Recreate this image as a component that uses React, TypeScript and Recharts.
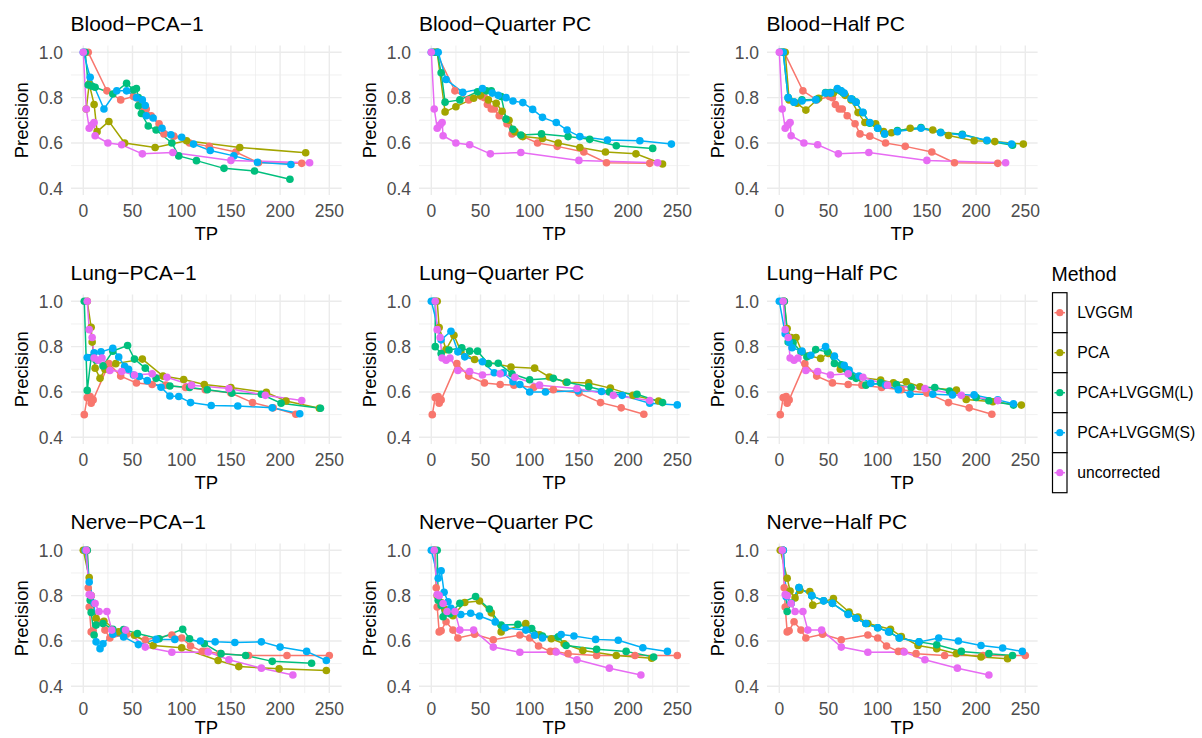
import { LineChart, Line, XAxis, YAxis, ReferenceLine } from "recharts";

type Pt = [number, number];

const methods = ["LVGGM", "PCA", "PCA+LVGGM(L)", "PCA+LVGGM(S)", "uncorrected"];
const methodColors = ["#F8766D", "#A3A500", "#00BF7D", "#00B0F6", "#E76BF3"];

const tpTicks = [0, 50, 100, 150, 200, 250];
const tpMinor = [25, 75, 125, 175, 225];
const precisionTicks = [0.4, 0.6, 0.8, 1.0];
const precisionMinor = [0.5, 0.7, 0.9];

// LVGGM and uncorrected are the same across the three PC settings of a tissue
const bloodLvggm: Pt[] = [[5, 1.0], [24, 0.83], [38, 0.79], [51, 0.805], [54, 0.8], [57, 0.77], [61, 0.75], [64, 0.75], [69, 0.72], [77, 0.685], [82, 0.64], [92, 0.63], [108, 0.6], [128, 0.585], [155, 0.56], [178, 0.513], [222, 0.51]];
const bloodUncorrected: Pt[] = [[0, 1.0], [3, 0.75], [6, 0.665], [9, 0.68], [11, 0.69], [12, 0.632], [25, 0.6], [39, 0.592], [60, 0.552], [91, 0.558], [150, 0.523], [230, 0.513]];

const bloodPca1Pca: Pt[] = [[3, 0.75], [6, 0.86], [11, 0.77], [14, 0.65], [26, 0.695], [42, 0.6], [73, 0.58], [105, 0.61], [159, 0.58], [226, 0.557]];
const bloodPca1L: Pt[] = [[2, 1.0], [5, 0.856], [9, 0.85], [12, 0.846], [30, 0.816], [44, 0.863], [51, 0.834], [54, 0.84], [56, 0.8], [56, 0.764], [59, 0.73], [66, 0.675], [74, 0.657], [90, 0.6], [97, 0.543], [115, 0.522], [143, 0.488], [174, 0.476], [210, 0.44]];
const bloodPca1S: Pt[] = [[0, 1.0], [7, 0.89], [21, 0.75], [34, 0.83], [44, 0.83], [54, 0.8], [60, 0.79], [63, 0.765], [64, 0.72], [71, 0.71], [80, 0.665], [89, 0.636], [100, 0.625], [112, 0.595], [129, 0.567], [153, 0.543], [177, 0.515], [211, 0.505]];

const bloodQuarterPca: Pt[] = [[3, 1.0], [6, 1.0], [14, 0.737], [25, 0.76], [43, 0.797], [50, 0.81], [58, 0.79], [66, 0.775], [72, 0.74], [79, 0.7], [85, 0.65], [93, 0.628], [113, 0.62], [129, 0.6], [151, 0.58], [177, 0.56], [208, 0.552], [235, 0.507]];
const bloodQuarterL: Pt[] = [[2, 1.0], [6, 1.0], [10, 0.91], [14, 0.78], [29, 0.79], [47, 0.826], [56, 0.83], [61, 0.83], [71, 0.805], [76, 0.705], [83, 0.66], [91, 0.635], [112, 0.64], [139, 0.628], [161, 0.616], [188, 0.588], [225, 0.576]];
const bloodQuarterS: Pt[] = [[0, 1.0], [7, 1.0], [15, 0.88], [32, 0.823], [52, 0.84], [62, 0.82], [68, 0.81], [76, 0.8], [83, 0.785], [93, 0.778], [103, 0.748], [113, 0.713], [127, 0.69], [138, 0.657], [151, 0.628], [179, 0.613], [212, 0.61], [244, 0.595]];

const bloodHalfPca: Pt[] = [[3, 1.0], [6, 1.0], [10, 0.79], [18, 0.775], [27, 0.745], [40, 0.797], [48, 0.82], [55, 0.82], [62, 0.83], [67, 0.81], [73, 0.79], [80, 0.734], [87, 0.69], [98, 0.684], [106, 0.65], [114, 0.645], [133, 0.665], [156, 0.657], [172, 0.633], [198, 0.61], [219, 0.606], [248, 0.595]];
const bloodHalfL: Pt[] = [[1, 1.0], [4, 1.0], [9, 0.8], [15, 0.78], [23, 0.79], [38, 0.793], [47, 0.822], [52, 0.822], [59, 0.837], [62, 0.83], [65, 0.82], [74, 0.793], [78, 0.78], [85, 0.734], [92, 0.687], [100, 0.665], [107, 0.64], [120, 0.655], [144, 0.668], [164, 0.647], [186, 0.638], [211, 0.61], [237, 0.59]];
const bloodHalfS: Pt[] = [[1, 1.0], [4, 1.0], [9, 0.8], [15, 0.78], [23, 0.785], [37, 0.79], [47, 0.82], [52, 0.82], [59, 0.84], [63, 0.83], [66, 0.82], [73, 0.795], [78, 0.78], [85, 0.735], [92, 0.69], [100, 0.665], [107, 0.64], [120, 0.65], [144, 0.665], [164, 0.645], [186, 0.635], [211, 0.612], [236, 0.595]];

const lungLvggm: Pt[] = [[1, 0.5], [4, 0.575], [7, 0.58], [8, 0.55], [10, 0.565], [26, 0.725], [38, 0.67], [54, 0.64], [70, 0.633], [84, 0.63], [104, 0.62], [124, 0.61], [150, 0.595], [172, 0.553], [193, 0.53], [216, 0.502]];
const lungUncorrected: Pt[] = [[4, 1.0], [6, 0.875], [9, 0.84], [11, 0.75], [15, 0.74], [19, 0.75], [27, 0.695], [39, 0.69], [52, 0.675], [70, 0.68], [85, 0.665], [110, 0.63], [148, 0.615], [185, 0.585], [222, 0.562]];

const lungPca1Pca: Pt[] = [[4, 1.0], [8, 0.885], [9, 0.82], [12, 0.705], [17, 0.66], [22, 0.7], [33, 0.725], [60, 0.745], [81, 0.67], [102, 0.655], [123, 0.633], [150, 0.62], [186, 0.598], [206, 0.56], [240, 0.528]];
const lungPca1L: Pt[] = [[1, 1.0], [4, 0.607], [8, 0.752], [13, 0.74], [20, 0.715], [30, 0.78], [45, 0.805], [52, 0.745], [63, 0.705], [74, 0.66], [88, 0.626], [108, 0.62], [126, 0.61], [151, 0.595], [181, 0.59], [201, 0.55], [241, 0.528]];
const lungPca1S: Pt[] = [[4, 0.752], [11, 0.773], [18, 0.777], [30, 0.793], [36, 0.754], [42, 0.713], [46, 0.7], [51, 0.675], [57, 0.668], [65, 0.65], [79, 0.621], [88, 0.582], [97, 0.58], [109, 0.553], [130, 0.54], [157, 0.538], [192, 0.53], [220, 0.504]];

const lungQuarterPca: Pt[] = [[6, 1.0], [8, 0.884], [15, 0.787], [23, 0.85], [30, 0.78], [44, 0.743], [81, 0.71], [105, 0.705], [120, 0.666], [137, 0.643], [160, 0.64], [182, 0.617], [205, 0.585], [231, 0.56]];
const lungQuarterL: Pt[] = [[2, 1.0], [4, 1.0], [4, 0.8], [10, 0.77], [18, 0.785], [31, 0.795], [39, 0.78], [47, 0.78], [58, 0.725], [68, 0.727], [82, 0.68], [100, 0.654], [124, 0.66], [138, 0.643], [160, 0.623], [181, 0.6], [209, 0.59], [235, 0.553]];
const lungQuarterS: Pt[] = [[0, 1.0], [10, 0.83], [20, 0.868], [27, 0.777], [34, 0.755], [52, 0.733], [64, 0.685], [73, 0.685], [83, 0.645], [90, 0.633], [100, 0.6], [116, 0.6], [149, 0.605], [173, 0.602], [194, 0.585], [222, 0.55], [250, 0.543]];

const lungHalfPca: Pt[] = [[5, 1.0], [8, 0.88], [12, 0.84], [17, 0.84], [23, 0.777], [30, 0.76], [42, 0.748], [50, 0.77], [62, 0.7], [80, 0.665], [103, 0.653], [116, 0.64], [129, 0.645], [143, 0.623], [180, 0.608], [190, 0.567], [217, 0.557], [246, 0.542]];
const lungHalfL: Pt[] = [[3, 1.0], [5, 1.0], [9, 0.82], [14, 0.817], [22, 0.777], [28, 0.755], [37, 0.787], [49, 0.777], [56, 0.726], [63, 0.72], [68, 0.7], [73, 0.67], [78, 0.66], [88, 0.63], [103, 0.64], [119, 0.633], [134, 0.62], [158, 0.62], [173, 0.604], [200, 0.576], [213, 0.561], [238, 0.542]];
const lungHalfS: Pt[] = [[0, 1.0], [6, 0.857], [10, 0.82], [13, 0.795], [23, 0.78], [32, 0.762], [47, 0.8], [56, 0.758], [66, 0.718], [71, 0.697], [81, 0.67], [93, 0.638], [108, 0.63], [121, 0.61], [133, 0.59], [156, 0.59], [176, 0.587], [198, 0.587], [222, 0.565], [238, 0.548]];

const nerveLvggm: Pt[] = [[4, 1.0], [5, 0.835], [6, 0.75], [8, 0.64], [10, 0.645], [15, 0.685], [22, 0.648], [27, 0.613], [44, 0.63], [63, 0.605], [90, 0.626], [100, 0.613], [109, 0.578], [121, 0.554], [126, 0.554], [139, 0.544], [168, 0.536], [207, 0.536], [250, 0.536]];
const nerveUncorrected: Pt[] = [[3, 1.0], [6, 0.805], [8, 0.8], [12, 0.765], [16, 0.73], [24, 0.73], [29, 0.648], [43, 0.648], [63, 0.573], [90, 0.55], [127, 0.551], [148, 0.517], [181, 0.48], [213, 0.45]];

const nervePca1Pca: Pt[] = [[0, 1.0], [6, 0.88], [8, 0.8], [13, 0.7], [21, 0.687], [36, 0.64], [52, 0.625], [71, 0.58], [100, 0.57], [137, 0.514], [158, 0.487], [199, 0.477], [247, 0.47]];
const nervePca1L: Pt[] = [[4, 1.0], [7, 0.78], [8, 0.726], [11, 0.626], [13, 0.67], [20, 0.677], [30, 0.652], [41, 0.65], [55, 0.633], [77, 0.61], [101, 0.652], [108, 0.61], [123, 0.588], [140, 0.544], [165, 0.536], [192, 0.51], [232, 0.502]];
const nervePca1S: Pt[] = [[2, 1.0], [6, 0.86], [11, 0.766], [13, 0.596], [17, 0.566], [20, 0.588], [30, 0.63], [41, 0.618], [56, 0.584], [74, 0.607], [93, 0.607], [119, 0.6], [134, 0.596], [154, 0.593], [181, 0.596], [200, 0.573], [227, 0.554], [247, 0.514]];

const nerveQuarterPca: Pt[] = [[3, 1.0], [6, 0.8], [10, 0.77], [14, 0.74], [22, 0.711], [34, 0.77], [49, 0.776], [61, 0.724], [71, 0.64], [96, 0.677], [110, 0.627], [122, 0.61], [135, 0.588], [154, 0.558], [188, 0.536], [224, 0.524]];
const nerveQuarterL: Pt[] = [[2, 1.0], [6, 1.0], [7, 0.78], [10, 0.757], [12, 0.707], [19, 0.72], [29, 0.766], [45, 0.796], [59, 0.741], [71, 0.67], [88, 0.673], [102, 0.655], [113, 0.622], [129, 0.618], [137, 0.58], [168, 0.563], [198, 0.554], [226, 0.529]];
const nerveQuarterS: Pt[] = [[0, 1.0], [7, 0.877], [10, 0.91], [13, 0.815], [17, 0.773], [20, 0.744], [30, 0.717], [40, 0.722], [49, 0.71], [65, 0.684], [75, 0.658], [96, 0.648], [105, 0.625], [113, 0.613], [132, 0.628], [145, 0.622], [167, 0.607], [190, 0.603], [215, 0.57], [240, 0.554]];

const nerveHalfPca: Pt[] = [[1, 1.0], [8, 0.877], [11, 0.82], [16, 0.79], [21, 0.824], [31, 0.818], [34, 0.758], [55, 0.787], [71, 0.728], [80, 0.706], [90, 0.677], [113, 0.652], [124, 0.62], [141, 0.58], [160, 0.566], [180, 0.544], [205, 0.529], [232, 0.522]];
const nerveHalfL: Pt[] = [[4, 1.0], [8, 0.73], [12, 0.766], [20, 0.836], [33, 0.8], [45, 0.777], [54, 0.766], [70, 0.72], [78, 0.7], [88, 0.677], [100, 0.658], [112, 0.64], [122, 0.613], [142, 0.596], [160, 0.583], [185, 0.554], [213, 0.544], [237, 0.536]];
const nerveHalfS: Pt[] = [[4, 1.0], [7, 0.795], [12, 0.766], [20, 0.836], [33, 0.8], [45, 0.777], [54, 0.766], [70, 0.717], [78, 0.7], [88, 0.677], [100, 0.658], [111, 0.64], [122, 0.613], [142, 0.596], [162, 0.613], [182, 0.6], [205, 0.58], [227, 0.569], [247, 0.554]];

// one entry per facet, series in the order of `methods`
const panels = [
  { title: "Blood−PCA−1", series: [bloodLvggm, bloodPca1Pca, bloodPca1L, bloodPca1S, bloodUncorrected] },
  { title: "Blood−Quarter PC", series: [bloodLvggm, bloodQuarterPca, bloodQuarterL, bloodQuarterS, bloodUncorrected] },
  { title: "Blood−Half PC", series: [bloodLvggm, bloodHalfPca, bloodHalfL, bloodHalfS, bloodUncorrected] },
  { title: "Lung−PCA−1", series: [lungLvggm, lungPca1Pca, lungPca1L, lungPca1S, lungUncorrected] },
  { title: "Lung−Quarter PC", series: [lungLvggm, lungQuarterPca, lungQuarterL, lungQuarterS, lungUncorrected] },
  { title: "Lung−Half PC", series: [lungLvggm, lungHalfPca, lungHalfL, lungHalfS, lungUncorrected] },
  { title: "Nerve−PCA−1", series: [nerveLvggm, nervePca1Pca, nervePca1L, nervePca1S, nerveUncorrected] },
  { title: "Nerve−Quarter PC", series: [nerveLvggm, nerveQuarterPca, nerveQuarterL, nerveQuarterS, nerveUncorrected] },
  { title: "Nerve−Half PC", series: [nerveLvggm, nerveHalfPca, nerveHalfL, nerveHalfS, nerveUncorrected] },
];

const FONT = "'Liberation Sans', Arial, Helvetica, sans-serif";
const GRID = "#EBEBEB";
const colLeft = [71, 419.4, 767];
const rowTop = [45.5, 294.2, 543.9];
const PLOT_W = 270.6;
const PLOT_H = 149.6;
const Y_AXIS_W = 62;
const TOP_PAD = 45.5;
const X_AXIS_H = 53;

const toRows = (pts: Pt[]) => pts.map(([tp, precision]) => ({ tp, precision }));

function Panel({ series, left, top, tpOffset }: { series: Pt[][]; left: number; top: number; tpOffset: number }) {
  return (
    <div style={{ position: "absolute", left: left - Y_AXIS_W, top: top - TOP_PAD }}>
      <LineChart
        width={Y_AXIS_W + PLOT_W + 4}
        height={TOP_PAD + PLOT_H + X_AXIS_H}
        margin={{ top: TOP_PAD, right: 4, bottom: 0, left: 0 }}
      >
        {tpMinor.map((v) => (
          <ReferenceLine key={"xm" + v} x={v} stroke={GRID} strokeWidth={0.7} />
        ))}
        {precisionMinor.map((v) => (
          <ReferenceLine key={"ym" + v} y={v} stroke={GRID} strokeWidth={0.7} />
        ))}
        {tpTicks.map((v) => (
          <ReferenceLine key={"x" + v} x={v} stroke={GRID} strokeWidth={1.4} />
        ))}
        {precisionTicks.map((v) => (
          <ReferenceLine key={"y" + v} y={v} stroke={GRID} strokeWidth={1.4} />
        ))}
        <XAxis
          type="number"
          dataKey="tp"
          domain={[-12.5, 262.5]}
          ticks={tpTicks}
          interval={0}
          allowDataOverflow
          axisLine={false}
          tickLine={false}
          tickSize={0}
          tickMargin={9}
          height={X_AXIS_H}
          tick={{ fill: "#4D4D4D", fontSize: 17.5, fontFamily: FONT }}
          label={{ value: "TP", position: "insideBottom", offset: tpOffset, fill: "#000", fontSize: 18.5, fontFamily: FONT }}
        />
        <YAxis
          type="number"
          domain={[0.37, 1.03]}
          ticks={precisionTicks}
          interval={0}
          allowDataOverflow
          axisLine={false}
          tickLine={false}
          tickSize={0}
          tickMargin={8}
          width={Y_AXIS_W}
          tickFormatter={(v) => Number(v).toFixed(1)}
          tick={{ fill: "#4D4D4D", fontSize: 17.5, fontFamily: FONT }}
          label={{
            value: "Precision",
            angle: -90,
            position: "insideLeft",
            offset: 12.4,
            fill: "#000",
            fontSize: 18.5,
            fontFamily: FONT,
            style: { textAnchor: "middle" },
          }}
        />
        {series.map((s, i) => (
          <Line
            key={"line" + i}
            data={toRows(s)}
            dataKey="precision"
            name={methods[i]}
            type="linear"
            stroke={methodColors[i]}
            strokeWidth={1.5}
            dot={false}
            activeDot={false}
            isAnimationActive={false}
          />
        ))}
        {series.map((s, i) => (
          <Line
            key={"pts" + i}
            data={toRows(s)}
            dataKey="precision"
            name={methods[i]}
            type="linear"
            stroke="none"
            dot={{ r: 3.8, fill: methodColors[i], stroke: "none" }}
            activeDot={false}
            isAnimationActive={false}
          />
        ))}
      </LineChart>
    </div>
  );
}

export default function App() {
  return (
    <div style={{ position: "absolute", left: 0, top: 0, width: 1202, height: 738, background: "#fff", fontFamily: FONT, overflow: "hidden" }}>
      {panels.map((p, k) => (
        <Panel
          key={p.title}
          series={p.series}
          left={colLeft[k % 3]}
          top={rowTop[Math.floor(k / 3)]}
          tpOffset={k >= 6 ? 12.5 : 8.5}
        />
      ))}
      <svg width={1202} height={738} style={{ position: "absolute", left: 0, top: 0, pointerEvents: "none" }}>
        {panels.map((p, k) => (
          <text
            key={p.title}
            x={colLeft[k % 3] - 0.5}
            y={rowTop[Math.floor(k / 3)] - 14.5}
            fontSize={21}
            fontFamily={FONT}
            fill="#000"
          >
            {p.title}
          </text>
        ))}
        <text x={1051.5} y={281} fontSize={19.5} fontFamily={FONT} fill="#000">
          Method
        </text>
        {methods.map((m, i) => {
          const y0 = 292.7 + i * 40;
          return (
            <g key={m}>
              <rect x={1052.5} y={y0} width={14.5} height={40} fill="#fff" stroke="#000" strokeWidth={1.2} />
              <line x1={1054.5} x2={1065} y1={y0 + 20} y2={y0 + 20} stroke={methodColors[i]} strokeWidth={1.5} />
              <circle cx={1059.8} cy={y0 + 20} r={3.6} fill={methodColors[i]} />
              <text x={1077.3} y={y0 + 25.5} fontSize={15.7} fontFamily={FONT} fill="#000">
                {m}
              </text>
            </g>
          );
        })}
      </svg>
    </div>
  );
}
